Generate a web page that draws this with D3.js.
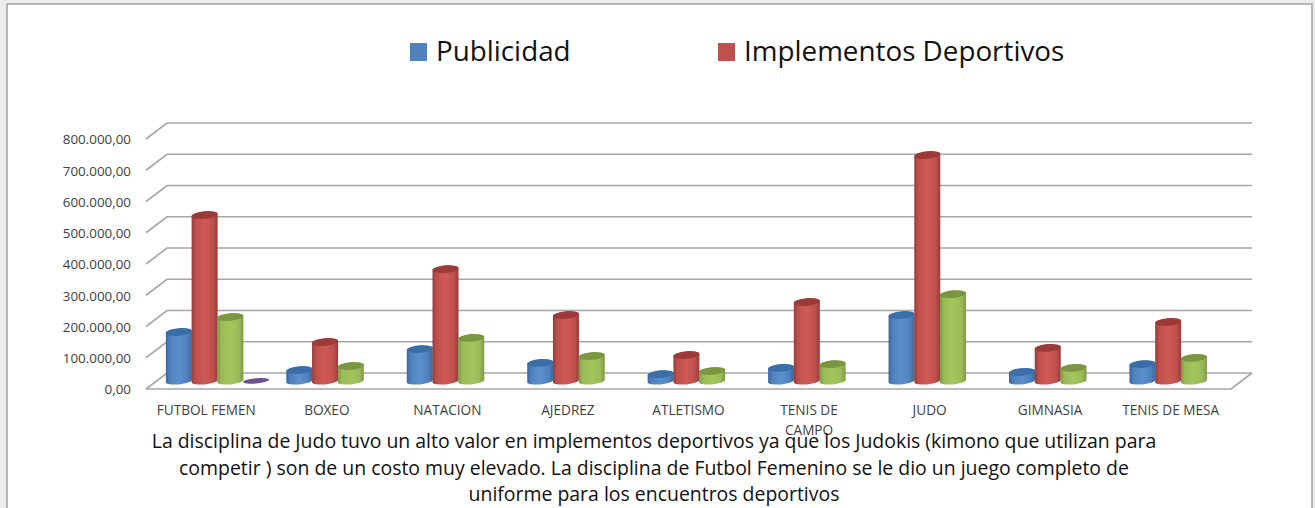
<!DOCTYPE html>
<html>
<head>
<meta charset="utf-8">
<script src="https://cdn.jsdelivr.net/npm/d3@7"></script>
<style>
  body { margin: 0; background: #fff; overflow: hidden; }
  svg { display: block; font-family: "Open Sans", "Noto Sans", sans-serif; }
</style>
</head>
<body>
<div id="chart"></div>
<script>
// Values
const categories = ["FUTBOL FEMEN", "BOXEO", "NATACION", "AJEDREZ", "ATLETISMO", "TENIS DE CAMPO", "JUDO", "GIMNASIA", "TENIS DE MESA"];
const publicidad = [157000, 35000, 102000, 58000, 22000, 42000, 211000, 29000, 54000];
const implementos = [531000, 125000, 358000, 211000, 83000, 253000, 723000, 106000, 189000];
const serieVerde = [205000, 48000, 138000, 80000, 32000, 54000, 278000, 42000, 74000];
const seriePurpura = [500, 0, 0, 0, 0, 0, 0, 0, 0];
const yTicks = [0, 100000, 200000, 300000, 400000, 500000, 600000, 700000, 800000];
const legendNames = ["Publicidad", "Implementos Deportivos"];
const paragraph = [
  "La disciplina de Judo tuvo un alto valor en implementos deportivos ya que los Judokis (kimono que utilizan para",
  "competir ) son de un costo muy elevado. La disciplina de Futbol Femenino se le dio un juego completo de",
  "uniforme para los encuentros deportivos"
];

const series = [
  { key: "pub", values: publicidad, side: "#4f81bd", mid: "#5b8fce", edge: "#3a689e", top: "#3a6ea8" },
  { key: "imp", values: implementos, side: "#c0504d", mid: "#cf5a56", edge: "#963c39", top: "#9c3a37" },
  { key: "ver", values: serieVerde, side: "#9bbb59", mid: "#a3c55c", edge: "#7c9a45", top: "#7a9640" },
  { key: "pur", values: seriePurpura, side: "#8064a2", mid: "#8064a2", edge: "#5c4778", top: "#6a5190" }
];

const width = 1315, height = 508;
const depthX = 21, depthY = 16;   // offset of the back wall against the front edge

const svg = d3.select("#chart").append("svg")
    .attr("width", width)
    .attr("height", height);

// Window frame around the pasted chart
svg.append("rect").attr("width", width).attr("height", height).attr("fill", "#ececec");
svg.append("rect")
    .attr("x", 7).attr("y", 4)
    .attr("width", 1305).attr("height", height + 10)
    .attr("fill", "#fff")
    .attr("stroke", "#a0a0a0")
    .attr("stroke-width", 1.5);

// Gradients for the cylinders
const defs = svg.append("defs");
series.forEach(s => {
  const g = defs.append("linearGradient").attr("id", "grad-" + s.key);
  g.append("stop").attr("offset", "0%").attr("stop-color", s.edge);
  g.append("stop").attr("offset", "16%").attr("stop-color", s.side);
  g.append("stop").attr("offset", "50%").attr("stop-color", s.mid);
  g.append("stop").attr("offset", "82%").attr("stop-color", s.side);
  g.append("stop").attr("offset", "100%").attr("stop-color", s.edge);
});

// Scales: y is the front edge of the floor
const y = d3.scaleLinear().domain([0, 800000]).range([389, 139]);
const x = d3.scaleBand().domain(categories).range([146, 1231]);
const xBars = d3.scaleBand().domain(categories).range([157, 1241]);
const xSub = d3.scaleBand().domain(series.map(s => s.key)).range([0, 103]);

// Gridlines on the back wall and the side wall
const grid = svg.append("g")
    .attr("fill", "none")
    .attr("stroke", "#a6a6a6")
    .attr("stroke-width", 1.6);

grid.selectAll(".back")
  .data(yTicks)
  .enter().append("path")
    .attr("d", d => `M${x.range()[0]},${y(d)}L${x.range()[0] + depthX},${y(d) - depthY}L${x.range()[1] + depthX},${y(d) - depthY}`);

// Floor
grid.append("path")
    .attr("d", `M${x.range()[0]},${y(0)}L${x.range()[1]},${y(0)}L${x.range()[1] + depthX},${y(0) - depthY}`);

// Y axis labels
const locale = d3.formatLocale({ decimal: ",", thousands: ".", grouping: [3], currency: ["", ""] });
const yAxis = svg.append("g")
    .attr("transform", "translate(146,0.6)")
    .call(d3.axisLeft(y).tickValues(yTicks).tickSize(0).tickPadding(15).tickFormat(locale.format(",.2f")));
yAxis.select(".domain").remove();
yAxis.attr("font-family", null).attr("font-size", 13.4);
yAxis.selectAll("text").attr("fill", "#404040");

// Cylinders
const rx = 13, ry = 3.4, tilt = -5;
const lift = Math.tan(-tilt * Math.PI / 180) * rx;
const barBase = value => y(value) - 8;

series.forEach(s => {
  const g = svg.append("g");
  categories.forEach((cat, i) => {
    const v = s.values[i];
    if (!v) return;
    const cx = xBars(cat) + 9 + xSub(s.key) + xSub.bandwidth() / 2;
    const y0 = barBase(0), y1 = barBase(v);
    if (y0 - y1 >= 2) {
      g.append("path")
          .attr("d", `M${cx - rx},${y1 + lift}L${cx - rx},${y0 + lift}A${rx},${ry} ${tilt} 0 0 ${cx + rx},${y0 - lift}L${cx + rx},${y1 - lift}A${rx},${ry} ${tilt} 0 0 ${cx - rx},${y1 + lift}Z`)
          .attr("fill", `url(#grad-${s.key})`);
    }
    g.append("ellipse")
        .attr("cx", cx).attr("cy", y1)
        .attr("rx", rx).attr("ry", y0 - y1 >= 2 ? ry + 0.4 : 2.6)
        .attr("transform", `rotate(${tilt} ${cx} ${y1})`)
        .attr("fill", s.top);
  });
});

// Category labels, only TENIS DE CAMPO wraps
const labels = svg.append("g")
    .attr("text-anchor", "middle")
    .attr("font-size", 13.6)
    .attr("fill", "#404040");
categories.forEach(cat => {
  const parts = cat === "TENIS DE CAMPO" ? ["TENIS DE", "CAMPO"] : [cat];
  const t = labels.append("text")
      .attr("x", x(cat) + x.bandwidth() / 2)
      .attr("y", 415);
  parts.forEach((p, j) => {
    t.append("tspan")
        .attr("x", x(cat) + x.bandwidth() / 2)
        .attr("dy", j === 0 ? 0 : 20)
        .text(p);
  });
});

// Legend
const legendX = d3.scaleOrdinal().domain(legendNames).range([410, 718]);
const legendColor = d3.scaleOrdinal().domain(legendNames).range([series[0].side, series[1].side]);
const legend = svg.append("g");
legendNames.forEach(name => {
  legend.append("rect")
      .attr("x", legendX(name)).attr("y", 43)
      .attr("width", 17).attr("height", 18)
      .attr("fill", legendColor(name));
  legend.append("text")
      .attr("x", legendX(name) + 26).attr("y", 61)
      .attr("font-size", 27.8)
      .attr("fill", "#111")
      .text(name);
});

// Comment below the chart
svg.append("g")
    .attr("text-anchor", "middle")
    .attr("font-size", 19.45)
    .attr("fill", "#111")
  .selectAll("text")
  .data(paragraph)
  .enter().append("text")
    .attr("x", 654)
    .attr("y", (d, i) => 448 + i * 26.5)
    .text(d => d);
</script>
</body>
</html>
